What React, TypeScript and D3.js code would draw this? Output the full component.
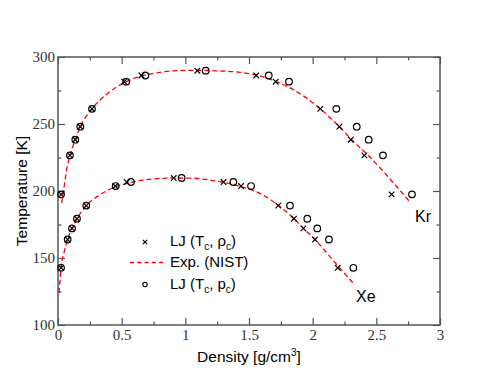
import { useEffect, useRef } from "react";
import * as d3 from "d3";

// Kr coexistence points: LJ (Tc, rho_c) crosses and LJ (Tc, pc) circles
const krCrossRho = [0.024, 0.094, 0.136, 0.175, 0.267, 0.52, 0.655, 1.094, 1.557, 1.71, 2.06, 2.21, 2.3, 2.406, 2.62];
const krCircleRho = [0.024, 0.094, 0.136, 0.175, 0.267, 0.536, 0.686, 1.16, 1.655, 1.814, 2.186, 2.346, 2.44, 2.552, 2.78];
const krTemp = [197.5, 226.6, 238.3, 248, 261.3, 281.6, 286.2, 289.8, 286.2, 281.6, 261.3, 248, 238.3, 226.6, 197.5];

// Xe coexistence points
const xeCrossRho = [0.024, 0.076, 0.11, 0.149, 0.222, 0.45, 0.54, 0.909, 1.3, 1.437, 1.73, 1.853, 1.927, 2.018, 2.197];
const xeCircleRho = [0.024, 0.076, 0.11, 0.149, 0.222, 0.453, 0.573, 0.971, 1.377, 1.516, 1.822, 1.958, 2.036, 2.128, 2.32];
const xeTemp = [142.7, 163.8, 172.1, 179.3, 189.1, 203.7, 206.7, 209.7, 206.7, 203.7, 189.1, 179.3, 172.1, 163.8, 142.7];

// NIST experimental curves
const krNistRho = [0.029, 0.045, 0.07, 0.094, 0.136, 0.175, 0.267, 0.4, 0.53, 0.66, 0.8, 0.95, 1.1, 1.25, 1.43, 1.6, 1.71, 1.85, 1.95, 2.06, 2.21, 2.32, 2.44, 2.56, 2.69, 2.77];
const krNistT = [191, 201, 217, 226.6, 238.3, 248, 261.3, 273.5, 281.3, 285.9, 288.6, 289.9, 290.1, 289.7, 288.6, 285.5, 281.8, 275.5, 269.5, 261.3, 248, 237, 226.3, 214, 200, 191];
const xeNistRho = [0.008, 0.024, 0.05, 0.076, 0.11, 0.149, 0.222, 0.33, 0.453, 0.573, 0.72, 0.9, 1.05, 1.2, 1.3, 1.437, 1.6, 1.73, 1.853, 1.927, 2.018, 2.1, 2.21, 2.33];
const xeNistT = [124, 142.5, 155, 163.8, 172.1, 179.3, 189.1, 197.2, 203.2, 206.5, 208.7, 209.7, 209.6, 208, 206.5, 203.3, 197.5, 189.3, 179.3, 172.1, 163.8, 155, 142.8, 130];

const xTicks = [0, 0.5, 1, 1.5, 2, 2.5, 3];
const yTicks = [100, 150, 200, 250, 300];

const W = 495;
const H = 383;
const SANS = "'Liberation Sans', Arial, Helvetica, sans-serif";
const SERIF = "'Liberation Serif', 'Times New Roman', serif";

export default function App() {
  const ref = useRef<SVGSVGElement>(null);

  useEffect(() => {
    const el = ref.current;
    if (!el) return;
    const svg = d3.select(el);
    svg.selectAll("*").remove();

    const M = { left: 58, right: 440, top: 57, bottom: 325 };
    const x = d3.scaleLinear().domain([0, 3]).range([M.left, M.right]);
    const y = d3.scaleLinear().domain([100, 300]).range([M.bottom, M.top]);

    svg.append("rect").attr("width", W).attr("height", H).attr("fill", "#fff");

    const minorX = d3.range(0, 3.01, 0.25).filter((v) => !xTicks.includes(v));
    const minorY = d3.range(100, 301, 25).filter((v) => !yTicks.includes(v));
    const tickColor = "#555";

    const styleAxis = (g: any) => {
      g.select(".domain").remove();
      g.selectAll(".tick line").attr("stroke", tickColor).attr("stroke-width", 1.2);
    };
    const styleLabels = (g: any) => {
      g.attr("font-family", SERIF).attr("font-size", 15);
      g.selectAll(".tick text").attr("fill", "#333").style("font-family", SERIF).style("font-size", "15px");
    };

    // bottom
    svg.append("g").attr("transform", `translate(0,${M.bottom})`)
      .call(d3.axisBottom(x).tickValues(xTicks).tickSize(-7).tickPadding(4).tickFormat((v: any) => d3.format("")(v)))
      .call(styleAxis)
      .call(styleLabels);
    svg.append("g").attr("transform", `translate(0,${M.bottom})`)
      .call(d3.axisBottom(x).tickValues(minorX).tickSize(-3.5).tickFormat(() => ""))
      .call(styleAxis);
    // top
    svg.append("g").attr("transform", `translate(0,${M.top})`)
      .call(d3.axisTop(x).tickValues(xTicks).tickSize(-7).tickFormat(() => ""))
      .call(styleAxis);
    svg.append("g").attr("transform", `translate(0,${M.top})`)
      .call(d3.axisTop(x).tickValues(minorX).tickSize(-3.5).tickFormat(() => ""))
      .call(styleAxis);
    // left
    svg.append("g").attr("transform", `translate(${M.left},0)`)
      .call(d3.axisLeft(y).tickValues(yTicks).tickSize(-7).tickPadding(3))
      .call(styleAxis)
      .call(styleLabels);
    svg.append("g").attr("transform", `translate(${M.left},0)`)
      .call(d3.axisLeft(y).tickValues(minorY).tickSize(-3.5).tickFormat(() => ""))
      .call(styleAxis);
    // right
    svg.append("g").attr("transform", `translate(${M.right},0)`)
      .call(d3.axisRight(y).tickValues(yTicks).tickSize(-7).tickFormat(() => ""))
      .call(styleAxis);
    svg.append("g").attr("transform", `translate(${M.right},0)`)
      .call(d3.axisRight(y).tickValues(minorY).tickSize(-3.5).tickFormat(() => ""))
      .call(styleAxis);

    // frame
    svg.append("rect")
      .attr("x", M.left).attr("y", M.top)
      .attr("width", M.right - M.left).attr("height", M.bottom - M.top)
      .attr("fill", "none").attr("stroke", tickColor).attr("stroke-width", 1.5);

    // NIST curves
    const line = d3.line<[number, number]>()
      .x((d) => x(d[0])).y((d) => y(d[1]))
      .curve(d3.curveMonotoneX);
    [[krNistRho, krNistT], [xeNistRho, xeNistT]].forEach(([rho, t]) => {
      svg.append("path")
        .attr("d", line(rho.map((r, i) => [r, t[i]] as [number, number])))
        .attr("fill", "none").attr("stroke", "#ff0000")
        .attr("stroke-width", 1.3).attr("stroke-dasharray", "5,3");
    });

    const crossPath = (s: number) => `M${-s},${-s}L${s},${s}M${-s},${s}L${s},${-s}`;

    // crosses
    [[krCrossRho, krTemp], [xeCrossRho, xeTemp]].forEach(([rho, t]) => {
      svg.append("g").selectAll("path").data(rho).join("path")
        .attr("transform", (d, i) => `translate(${x(d)},${y(t[i])})`)
        .attr("d", crossPath(2.8))
        .attr("stroke", "#000").attr("stroke-width", 1.2).attr("fill", "none");
    });
    // circles
    [[krCircleRho, krTemp], [xeCircleRho, xeTemp]].forEach(([rho, t]) => {
      svg.append("g").selectAll("circle").data(rho).join("circle")
        .attr("cx", (d) => x(d)).attr("cy", (d, i) => y(t[i]))
        .attr("r", 3.3)
        .attr("stroke", "#000").attr("stroke-width", 1.2).attr("fill", "none");
    });

    // curve labels
    svg.append("text").attr("x", 415).attr("y", 222).text("Kr")
      .style("font-family", SANS).style("font-size", "16px");
    svg.append("text").attr("x", 356).attr("y", 302).text("Xe")
      .style("font-family", SANS).style("font-size", "16px");

    // legend
    const leg = svg.append("g").style("font-family", SANS).style("font-size", "15px");
    leg.append("path").attr("transform", "translate(145,242)").attr("d", crossPath(2.2))
      .attr("stroke", "#000").attr("stroke-width", 1.1);
    leg.append("line").attr("x1", 130).attr("x2", 164).attr("y1", 262.5).attr("y2", 262.5)
      .attr("stroke", "#ff0000").attr("stroke-width", 1.3).attr("stroke-dasharray", "4,3.3");
    leg.append("circle").attr("cx", 145).attr("cy", 284.5).attr("r", 2.2)
      .attr("stroke", "#000").attr("stroke-width", 1.1).attr("fill", "none");

    const subLabel = (yy: number, sym: string) => {
      const t = leg.append("text").attr("x", 170).attr("y", yy);
      t.append("tspan").text("LJ (T");
      t.append("tspan").text("c").attr("dy", 4).style("font-size", "10px");
      t.append("tspan").text(`, ${sym}`).attr("dy", -4);
      t.append("tspan").text("c").attr("dy", 4).style("font-size", "10px");
      t.append("tspan").text(")").attr("dy", -4);
    };
    subLabel(246, "ρ");
    leg.append("text").attr("x", 170).attr("y", 267).text("Exp. (NIST)");
    subLabel(288.5, "p");

    // axis titles
    const xt = svg.append("text").attr("x", 249).attr("y", 362).attr("text-anchor", "middle")
      .style("font-family", SANS).style("font-size", "15.5px");
    xt.append("tspan").text("Density [g/cm");
    xt.append("tspan").text("3").attr("dy", -6).style("font-size", "10px");
    xt.append("tspan").text("]").attr("dy", 6);

    svg.append("text")
      .attr("transform", "translate(27,191) rotate(-90)")
      .attr("text-anchor", "middle")
      .style("font-family", SANS).style("font-size", "15.5px")
      .text("Temperature [K]");
  }, []);

  return (
    <svg
      ref={ref}
      width={W}
      height={H}
      style={{ position: "absolute", left: 0, top: 0, display: "block" }}
    />
  );
}
